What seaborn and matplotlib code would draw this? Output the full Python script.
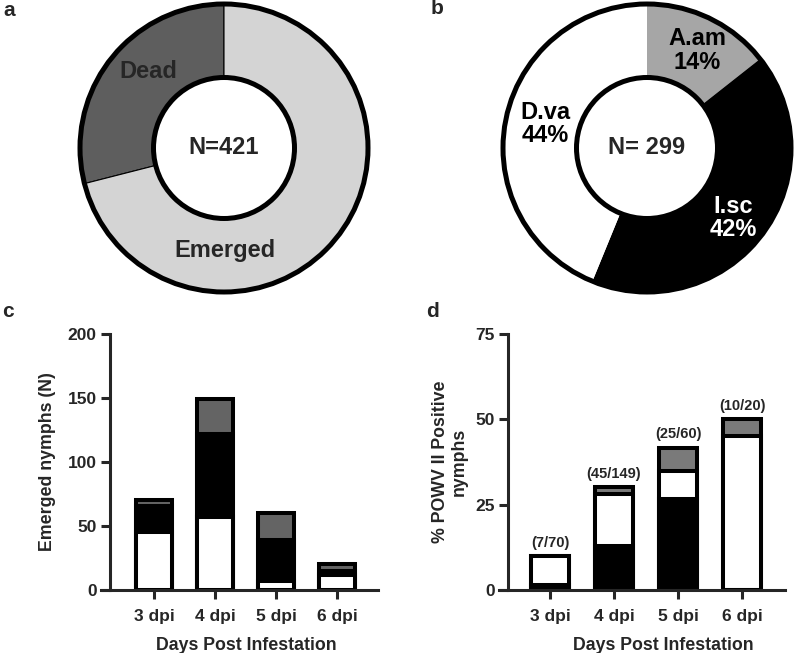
import numpy as np
import matplotlib.pyplot as plt
import seaborn as sns

# panel a: fate of engorged larvae
fate_labels = ["Dead", "Emerged"]
fate_counts = [122, 299]

# panel b: species of emerged nymphs (clockwise from top)
species = ["A.am", "I.sc", "D.va"]
species_counts = [43, 125, 131]
species_pct = ["14%", "42%", "44%"]

# panels c and d
days = ["3 dpi", "4 dpi", "5 dpi", "6 dpi"]

# c: emerged nymphs, stacked bottom -> top (D.va, I.sc, A.am)
emerged_dva = [45, 57, 7, 12]
emerged_isc = [21, 65, 32, 3]
emerged_aam = [4, 27, 21, 5]

# d: % positive nymphs, stacked bottom -> top (I.sc, D.va, A.am)
pos_isc = [1.4, 12.8, 26.7, 0.0]
pos_dva = [8.6, 15.4, 8.3, 45.0]
pos_aam = [0.0, 2.0, 6.7, 5.0]
pos_labels = ["(7/70)", "(45/149)", "(25/60)", "(10/20)"]

sns.set_style("ticks")
plt.rcParams["font.family"] = ["Liberation Sans", "DejaVu Sans"]
plt.rcParams["font.weight"] = "bold"
plt.rcParams["axes.labelweight"] = "bold"

fig = plt.figure(figsize=(7.94, 6.53), dpi=100)
W, H = 794, 653


def px_axes(cx, cy, half):
    return fig.add_axes([(cx - half) / W, (H - cy - half) / H, 2 * half / W, 2 * half / H])


def donut(ax, counts, colors, counterclock, edge_lw):
    ax.pie(counts, colors=colors, startangle=90, radius=0.96, counterclock=counterclock,
           wedgeprops=dict(width=0.49, edgecolor="black", linewidth=edge_lw))
    for r in (0.96, 0.47):
        ax.add_patch(plt.Circle((0, 0), r, fill=False, lw=3.6, color="black"))
    ax.set_xlim(-1, 1)
    ax.set_ylim(-1, 1)
    ax.set_aspect("equal")
    ax.axis("off")


# a
ax_a = px_axes(224, 148, 150)
donut(ax_a, fate_counts, ["#5e5e5e", "#d4d4d4"], True, 0.8)
ax_a.text(-0.507, 0.51, fate_labels[0], ha="center", va="center", fontsize=17)
ax_a.text(0.007, -0.68, fate_labels[1], ha="center", va="center", fontsize=17)
ax_a.text(0, 0, "N=" + str(sum(fate_counts)), ha="center", va="center", fontsize=17)

# b
ax_b = px_axes(647, 148, 150)
donut(ax_b, species_counts, ["#a6a6a6", "black", "white"], False, 0)
label_pos = [(0.333, 0.65), (0.573, -0.467), (-0.675, 0.16)]
label_col = ["black", "white", "black"]
for name, pct, (x, y), c in zip(species, species_pct, label_pos, label_col):
    ax_b.text(x, y, name + "\n" + pct, ha="center", va="center", fontsize=17,
              color=c, linespacing=1.05)
ax_b.text(0, 0, "N= " + str(sum(species_counts)), ha="center", va="center", fontsize=17)


def stacked(ax, layers, colors):
    tops = np.cumsum(layers, axis=0)
    for h, c in zip(tops[::-1], colors[::-1]):
        sns.barplot(x=days, y=h, color=c, saturation=1, width=0.6,
                    edgecolor="black", linewidth=2.9, ax=ax)
    return tops[-1]


def style_axes(ax, xlim, ymax, yticks, ylabel, xlab_x, ylab_x):
    ax.set_xlim(*xlim)
    ax.set_ylim(0, ymax)
    ax.set_yticks(yticks)
    sns.despine(ax=ax)
    for s in ("left", "bottom"):
        ax.spines[s].set_linewidth(2.2)
    ax.spines["bottom"].set_bounds(xlim[0] - 0.14, xlim[1])
    ax.tick_params(width=2.2, length=6.5, labelsize=12.5, pad=3)
    ax.tick_params(axis="x", pad=7)
    for t in ax.get_xticklabels() + ax.get_yticklabels():
        t.set_fontweight("bold")
    ax.set_xlabel("Days Post Infestation", fontsize=12.8)
    ax.set_ylabel(ylabel, fontsize=12.8, linespacing=1.15)
    ax.xaxis.set_label_coords(xlab_x, -0.185)
    ax.yaxis.set_label_coords(ylab_x, 0.5)


# c
ax_c = fig.add_axes([110 / W, (H - 590) / H, 268 / W, 256 / H])
stacked(ax_c, [emerged_dva, emerged_isc, emerged_aam], ["white", "black", "#646464"])
style_axes(ax_c, (-0.72, 3.67), 200, [0, 50, 100, 150, 200],
           "Emerged nymphs (N)", 0.507, -0.2)

# d
ax_d = fig.add_axes([507.7 / W, (H - 590) / H, 277.3 / W, 256 / H])
totals = stacked(ax_d, [pos_isc, pos_dva, pos_aam], ["black", "white", "#7a7a7a"])
for i, (t, lab) in enumerate(zip(totals, pos_labels)):
    ax_d.annotate(lab, (i, t), xytext=(0, 4.5), textcoords="offset points",
                  ha="center", va="bottom", fontsize=10.5, fontweight="bold")
style_axes(ax_d, (-0.66, 3.67), 75, [0, 25, 50, 75],
           "% POWV II Positive\nnymphs", 0.56, -0.145)

# panel letters
for lab, x, y in [("a", 9, 10), ("b", 437, 9), ("c", 8, 312), ("d", 432, 311)]:
    fig.text(x / W, 1 - y / H, lab, ha="center", va="center", fontsize=15, fontweight="bold")

fig.savefig("out.png", dpi=100)
